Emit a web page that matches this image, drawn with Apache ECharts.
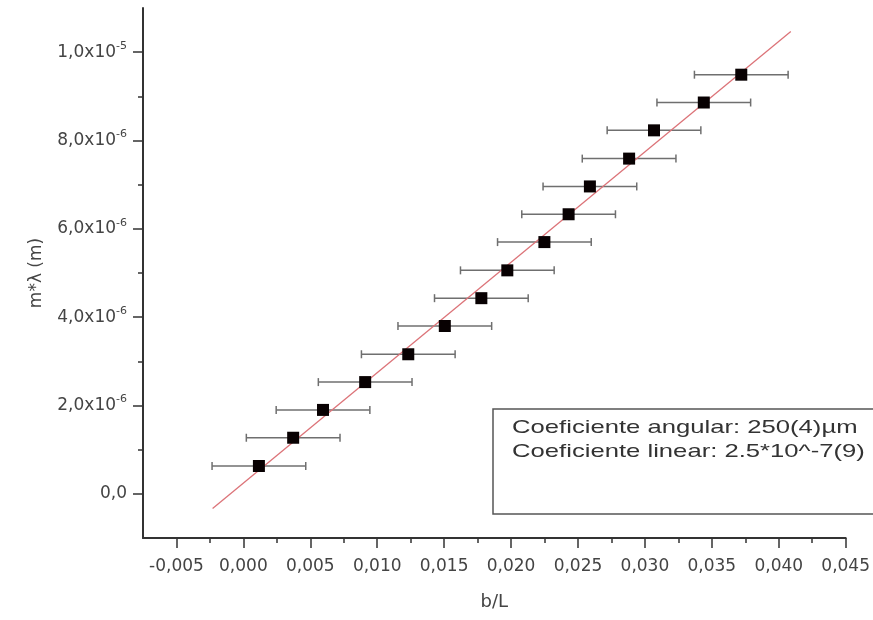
<!DOCTYPE html>
<html>
<head>
<meta charset="utf-8">
<script src="https://cdn.jsdelivr.net/npm/echarts@6/dist/echarts.min.js"></script>
<style>
  html, body { margin: 0; padding: 0; background: #fff; }
  #chart { width: 873px; height: 620px; }
</style>
</head>
<body>
<div id="chart"></div>
<script>
// b/L values
const bL = [0.00116, 0.00372, 0.00595, 0.0091, 0.01232, 0.01505, 0.01778, 0.01972,
            0.02249, 0.0243, 0.02589, 0.02882, 0.03068, 0.0344, 0.0372];
// m*lambda (m)
const mLambda = [0.63e-6, 1.27e-6, 1.90e-6, 2.53e-6, 3.16e-6, 3.80e-6, 4.43e-6, 5.06e-6,
                 5.70e-6, 6.33e-6, 6.96e-6, 7.59e-6, 8.23e-6, 8.86e-6, 9.49e-6];
// horizontal error on b/L
const bLErr = [0.0035, 0.0035, 0.0035, 0.0035, 0.0035, 0.0035, 0.0035, 0.0035,
               0.0035, 0.0035, 0.0035, 0.0035, 0.0035, 0.0035, 0.0035];
// fitted line ends
const fitX = [-0.0023, 0.0409];
const fitY = [-0.33e-6, 10.47e-6];

const xMajor = [-0.005, 0, 0.005, 0.01, 0.015, 0.02, 0.025, 0.03, 0.035, 0.04, 0.045];
const xMinor = [-0.0025, 0.0025, 0.0075, 0.0125, 0.0175, 0.0225, 0.0275, 0.0325, 0.0375, 0.0425];
const yMajor = [0, 2e-6, 4e-6, 6e-6, 8e-6, 1e-5];
const yMinor = [1e-6, 3e-6, 5e-6, 7e-6, 9e-6];

const boxLines = ['Coeficiente angular: 250(4)\u00b5m', 'Coeficiente linear: 2.5*10^-7(9)'];

const chart = echarts.init(document.getElementById('chart'));

const axisCol = '#333';
const textCol = '#444';
const font = 'DejaVu Sans';

function yLabel(v) {
  const n = Math.round(v * 1e6);
  if (n === 0) return '0,0';
  if (n >= 10) return (n / 10).toFixed(1).replace('.', ',') + 'x10{sup|-5}';
  return n.toFixed(1).replace('.', ',') + 'x10{sup|-6}';
}

const points = bL.map((x, i) => [x, mLambda[i], bLErr[i]]);

const option = {
  animation: false,
  grid: { left: 143, right: 26, top: 8, bottom: 82 },
  xAxis: [{
    type: 'value', min: -0.0075, max: 0.045,
    name: 'b/L', nameLocation: 'middle', nameGap: 55,
    nameTextStyle: { fontFamily: font, fontSize: 18, color: textCol },
    axisLine: { onZero: false, lineStyle: { color: axisCol, width: 2 } },
    axisTick: { show: true, customValues: xMajor, length: 10, lineStyle: { color: axisCol, width: 1.5 } },
    axisLabel: {
      customValues: xMajor, margin: 20, fontFamily: font, fontSize: 17, color: textCol,
      formatter: v => v.toFixed(3).replace('.', ',')
    },
    splitLine: { show: false }
  }, {
    type: 'value', min: -0.0075, max: 0.045, position: 'bottom',
    axisLine: { show: false, onZero: false },
    axisTick: { show: true, customValues: xMinor, length: 5, lineStyle: { color: axisCol, width: 1.5 } },
    axisLabel: { show: false },
    splitLine: { show: false }
  }],
  yAxis: [{
    type: 'value', min: -1e-6, max: 1.1e-5,
    name: 'm*\u03bb (m)', nameLocation: 'middle', nameGap: 98, nameRotate: 90,
    nameTextStyle: { fontFamily: font, fontSize: 17, color: textCol },
    axisLine: { onZero: false, lineStyle: { color: axisCol, width: 2 } },
    axisTick: { show: true, customValues: yMajor, length: 10, lineStyle: { color: axisCol, width: 1.5 } },
    axisLabel: {
      customValues: yMajor, margin: 16, fontFamily: font, fontSize: 17, color: textCol,
      formatter: yLabel,
      rich: {
        sup: { fontFamily: font, fontSize: 11, color: textCol, padding: [0, 0, 12, 0] }
      }
    },
    splitLine: { show: false }
  }, {
    type: 'value', min: -1e-6, max: 1.1e-5, position: 'left',
    axisLine: { show: false, onZero: false },
    axisTick: { show: true, customValues: yMinor, length: 5, lineStyle: { color: axisCol, width: 1.5 } },
    axisLabel: { show: false },
    splitLine: { show: false }
  }],
  series: [{
    name: 'fit',
    type: 'line',
    data: fitX.map((x, i) => [x, fitY[i]]),
    symbol: 'none',
    lineStyle: { color: '#dc7378', width: 1.3 },
    z: 2
  }, {
    name: 'erro',
    type: 'custom',
    data: points,
    encode: { x: 0, y: 1 },
    renderItem: (params, api) => {
      const x = api.value(0), y = api.value(1), e = api.value(2);
      const l = api.coord([x - e, y]);
      const r = api.coord([x + e, y]);
      const cap = 4;
      const st = { stroke: '#6f6f6f', lineWidth: 1.5 };
      return {
        type: 'group',
        children: [
          { type: 'line', shape: { x1: l[0], y1: l[1], x2: r[0], y2: r[1] }, style: st },
          { type: 'line', shape: { x1: l[0], y1: l[1] - cap, x2: l[0], y2: l[1] + cap }, style: st },
          { type: 'line', shape: { x1: r[0], y1: r[1] - cap, x2: r[0], y2: r[1] + cap }, style: st }
        ]
      };
    },
    z: 1
  }, {
    name: 'dados',
    type: 'scatter',
    data: points.map(p => [p[0], p[1]]),
    symbol: 'rect',
    symbolSize: 12,
    itemStyle: { color: '#080102', opacity: 1 },
    z: 3
  }],
  graphic: [{
    type: 'rect',
    shape: { x: 493, y: 409, width: 420, height: 105 },
    style: { fill: '#fff', stroke: '#555', lineWidth: 1.5 },
    z: 10
  }, {
    type: 'text', x: 512, y: 428, scaleX: 1.35,
    style: { text: boxLines[0], font: '19px "Liberation Sans"', fill: '#333', textVerticalAlign: 'middle' },
    z: 11
  }, {
    type: 'text', x: 512, y: 452, scaleX: 1.35,
    style: { text: boxLines[1], font: '19px "Liberation Sans"', fill: '#333', textVerticalAlign: 'middle' },
    z: 11
  }]
};

option && chart.setOption(option);
</script>
</body>
</html>
